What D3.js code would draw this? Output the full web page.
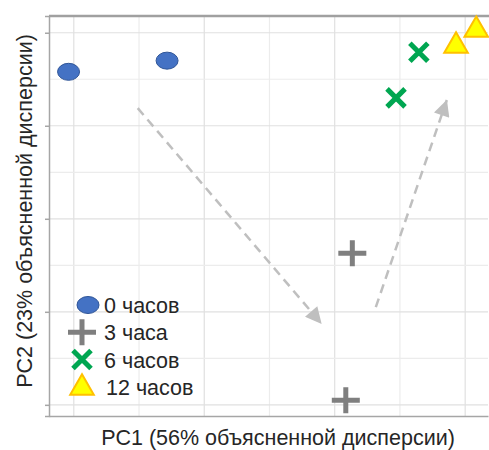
<!DOCTYPE html>
<html lang="ru">
<head>
<meta charset="UTF-8">
<title>PCA</title>
<style>
  body { margin: 0; background: #fff; }
  text { font-family: "Liberation Sans", Arial, sans-serif; fill: #262626; }
</style>
</head>
<body>
<script src="https://d3js.org/d3.v7.min.js"></script>
<script>
// groups and their PCA scores
var groups = ["0 часов", "3 часа", "6 часов", "12 часов"];
var pc1 = [[-40.8, -25.7], [2.7, 1.7], [12.9, 9.4], [18.6, 21.7]];
var pc2 = [[15.8, 17.0], [-3.7, -19.5], [17.9, 13.0], [18.7, 20.4]];
// trajectory arrows: [x0, y0, x1, y1]
var arrows = [[-30.2, 11.9, -2.0, -11.3], [6.3, -9.5, 17.2, 12.8]];
var xTicks = [-40, -20, 0, 20];
var yTicks = [-20, -10, 0, 10, 20];
var xLabel = "PC1 (56% объясненной дисперсии)";
var yLabel = "PC2 (23% объясненной дисперсии)";

var width = 489, height = 450;
var m = {left: 49, right: 488, top: 16, bottom: 416};

var x = d3.scaleLinear().domain([-43.8, 23.5]).range([m.left, m.right]);
var y = d3.scaleLinear().domain([-21.2, 21.8]).range([m.bottom, m.top]);

var svg = d3.select("body").append("svg")
    .attr("width", width)
    .attr("height", height);

svg.append("defs").append("marker")
    .attr("id", "head")
    .attr("viewBox", "0 0 10 10")
    .attr("refX", 10).attr("refY", 5)
    .attr("markerWidth", 7).attr("markerHeight", 6.5)
    .attr("markerUnits", "strokeWidth")
    .attr("orient", "auto")
    .append("path")
    .attr("d", "M0,0 L10,5 L0,10 Z")
    .attr("fill", "#bfbfbf");

// grid
var grid = svg.append("g");
grid.selectAll(".vx").data(d3.range(-40, 21, 10)).enter().append("line")
    .attr("x1", d => x(d)).attr("x2", d => x(d))
    .attr("y1", m.top).attr("y2", m.bottom)
    .attr("stroke", d => d % 20 === 0 ? "#e0e0e0" : "#ececec")
    .attr("stroke-width", 1.2);
grid.selectAll(".hy").data(d3.range(-20, 21, 5)).enter().append("line")
    .attr("y1", d => y(d)).attr("y2", d => y(d))
    .attr("x1", m.left).attr("x2", m.right)
    .attr("stroke", d => d % 10 === 0 ? "#e0e0e0" : "#ececec")
    .attr("stroke-width", 1.2);

// axes (no labels)
svg.append("g")
    .attr("transform", "translate(" + m.left + ",0)")
    .call(d3.axisLeft(y).tickValues(yTicks).tickSize(4).tickFormat(""))
    .call(g => g.selectAll("line, path").attr("stroke", "#a6a6a6").attr("stroke-width", 1.5));
svg.append("g")
    .attr("transform", "translate(0," + m.bottom + ")")
    .call(d3.axisBottom(x).tickValues(xTicks).tickSize(0).tickFormat(""))
    .call(g => g.selectAll("line, path").attr("stroke", "#a6a6a6").attr("stroke-width", 1.5));
svg.append("line")
    .attr("x1", m.left).attr("x2", width).attr("y1", m.top).attr("y2", m.top)
    .attr("stroke", "#a0a0a0").attr("stroke-width", 2.5);

// arrows
svg.selectAll(".arrow").data(arrows).enter().append("line")
    .attr("x1", d => x(d[0])).attr("y1", d => y(d[1]))
    .attr("x2", d => x(d[2])).attr("y2", d => y(d[3]))
    .attr("stroke", "#bfbfbf").attr("stroke-width", 2.5)
    .attr("stroke-dasharray", "9,6")
    .attr("marker-end", "url(#head)");

// markers
function drawMarker(g, k) {
    if (k === 0) {
        g.append("ellipse").attr("rx", 11).attr("ry", 8.5)
            .attr("fill", "#4472c4").attr("stroke", "#2f5597").attr("stroke-width", 1);
    } else if (k === 1) {
        g.append("path").attr("d", "M-14,0H14M0,-13V13")
            .attr("stroke", "#7f7f7f").attr("stroke-width", 5);
    } else if (k === 2) {
        g.append("path").attr("d", "M-9,-9L9,9M-9,9L9,-9")
            .attr("stroke", "#00a651").attr("stroke-width", 5);
    } else {
        g.append("path").attr("d", d3.symbol().type(d3.symbolTriangle).size(240)())
            .attr("transform", "translate(0,1)")
            .attr("fill", "#ffff00").attr("stroke", "#ffc000").attr("stroke-width", 2);
    }
}

groups.forEach(function (name, k) {
    pc1[k].forEach(function (v, i) {
        var g = svg.append("g")
            .attr("transform", "translate(" + x(v) + "," + y(pc2[k][i]) + ")");
        drawMarker(g, k);
    });
});

// legend
var legend = svg.append("g");
groups.forEach(function (name, k) {
    var ly = 305 + k * 27.3;
    var g = legend.append("g").attr("transform", "translate(" + (k === 0 ? 88 : 82) + "," + ly + ")");
    drawMarker(g, k);
    legend.append("text")
        .attr("x", k === 3 ? 106 : 104).attr("y", ly + 8)
        .attr("font-size", 21.5)
        .text(name);
});

// axis titles
svg.append("text")
    .attr("x", 278).attr("y", 445)
    .attr("text-anchor", "middle")
    .attr("font-size", 21.5)
    .text(xLabel);
svg.append("text")
    .attr("transform", "translate(32,211) rotate(-90)")
    .attr("text-anchor", "middle")
    .attr("font-size", 21.5)
    .text(yLabel);
</script>
</body>
</html>
